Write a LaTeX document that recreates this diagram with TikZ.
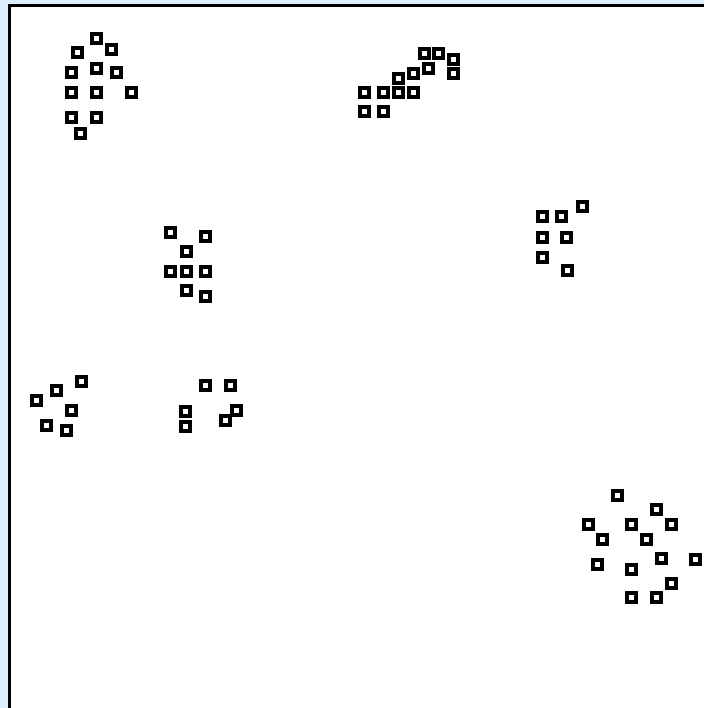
\documentclass[tikz,border=0pt]{standalone}
\definecolor{bgblue}{RGB}{222,238,252}
\tikzset{
  cell/.style={draw=black, line width=4pt, fill=white, minimum size=9pt, inner sep=0pt, outer sep=0pt},
}
\begin{document}
\begin{tikzpicture}[x=1pt,y=-1pt]
\useasboundingbox (0,0) rectangle (704,708);
\fill[bgblue] (0,0) rectangle (704,708);
\fill[white] (9,6) rectangle (704,708);
\draw[line width=3pt] (9,708) -- (9,6) -- (704,6);
% cluster 1
\foreach \x/\y in {96.7/38.3, 111/49.3, 77.3/52.3, 96/68.3, 116/72.3, 71/72.7, 71/92.3, 96.7/92.3, 131.7/92.7, 71/117.7, 96.7/117.7, 80.7/133.3}
  \node[cell] at (\x,\y) {};
% cluster 2
\foreach \x/\y in {424.3/54, 438.7/54, 453.3/59.3, 428.7/69, 413.3/73.3, 453.3/73.3, 398.3/79, 364/92.3, 383.3/92.3, 398.3/92.3, 413.3/92.3, 364/111.7, 383.3/111.7}
  \node[cell] at (\x,\y) {};
% cluster 3
\foreach \x/\y in {170.7/232.3, 205.7/236.7, 186/251.7, 170.7/271.7, 186/271.7, 205.7/271.7, 186/290.7, 205.7/296.7}
  \node[cell] at (\x,\y) {};
% cluster 4
\foreach \x/\y in {582.7/206.7, 542.7/216.7, 561.7/216.7, 542.7/237.7, 566.7/237.7, 542.7/257.3, 567.7/270.7}
  \node[cell] at (\x,\y) {};
% cluster 5
\foreach \x/\y in {81/381, 56.7/390.7, 36.7/400.7, 71.7/410.7, 46.7/425, 66.7/430}
  \node[cell] at (\x,\y) {};
% cluster 6
\foreach \x/\y in {205.7/385.7, 230/385.7, 185/411.7, 185/426, 236/410, 225/420.7}
  \node[cell] at (\x,\y) {};
% cluster 7
\foreach \x/\y in {617.3/495, 656.7/509.3, 588.3/524, 631/524, 671/524, 602.3/539.3, 646/539.3, 661/558.3, 695.7/559, 597.7/564.3, 631/569, 671/583.3, 631/597.3, 656.7/597.3}
  \node[cell] at (\x,\y) {};
\end{tikzpicture}
\end{document}
